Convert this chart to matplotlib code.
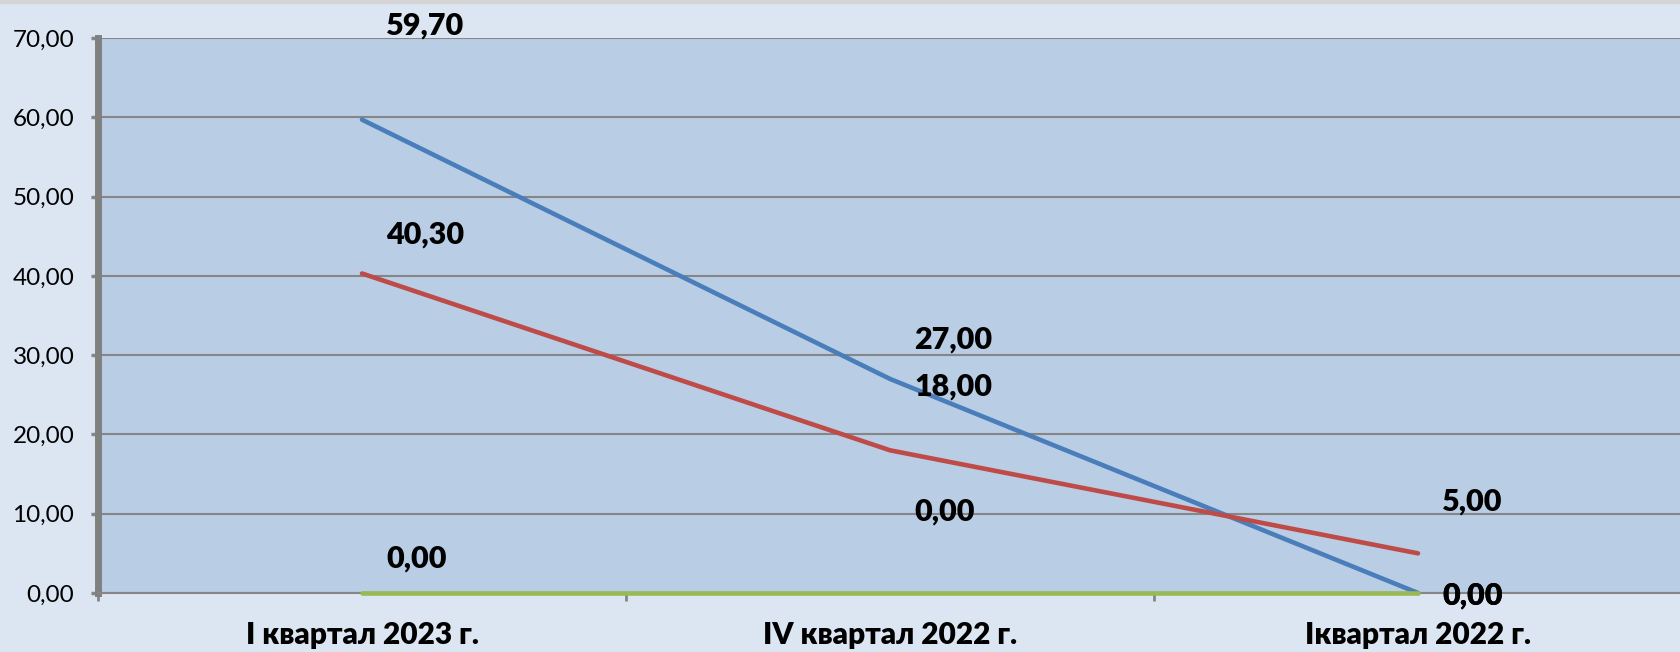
import matplotlib.pyplot as plt
from matplotlib.patches import Rectangle

categories = ["I квартал 2023 г.", "IV квартал 2022 г.", "Іквартал 2022 г."]
blue_vals = [59.7, 27.0, 0.0]
red_vals = [40.3, 18.0, 5.0]
green_vals = [0.0, 0.0, 0.0]
y_ticks = [0, 10, 20, 30, 40, 50, 60, 70]

plt.rcParams['font.family'] = ['Lato', 'Open Sans', 'DejaVu Sans']

fig = plt.figure(figsize=(16.8, 6.52), dpi=100)
fig.patch.set_facecolor("#dce6f2")
# thin grey band on top
fig.patches.append(Rectangle((0, 0.995), 1, 0.005, transform=fig.transFigure,
                             color="#d4d4d4", zorder=0))

ax = fig.add_axes([98 / 1680, 59 / 652, 1584 / 1680, 555 / 652])
ax.set_facecolor("#b9cde5")

x = list(range(len(categories)))
series = [
    (blue_vals, "#4a7ebb", [94, 39, -3]),
    (red_vals, "#be4b48", [39, 64, 52]),
    (green_vals, "#98b954", [34, 81, -3]),
]
for vals, col, dy in series:
    ax.plot(x, vals, color=col, lw=3.3, solid_capstyle="round", zorder=4,
            clip_on=False)
    for xi, v, d in zip(x, vals, dy):
        ax.annotate(f"{v:.2f}".replace(".", ","), (xi, v), xytext=(24, d),
                    textcoords="offset pixels", ha="left", va="center",
                    fontsize=22, fontweight="heavy", color="black", zorder=5,
                    annotation_clip=False)

ax.set_xlim(-0.5, 2.5)
ax.set_ylim(0, 70)
ax.set_yticks(y_ticks)
ax.set_yticklabels([f"{t:.2f}".replace(".", ",") for t in y_ticks], fontsize=17.5)
ax.yaxis.grid(True, color="#868686", lw=1.5, zorder=1)
ax.set_axisbelow(True)

ax.set_xticks(x)
ax.set_xticklabels(categories, fontsize=21.5, fontweight="heavy")
ax.set_xticks([-0.5, 0.5, 1.5, 2.5], minor=True)
ax.tick_params(axis="x", which="major", length=0, pad=20)
ax.tick_params(axis="x", which="minor", length=6, width=2, color="#868686")
ax.tick_params(axis="y", length=5, width=2.5, color="#868686", pad=12)

for s in ["top", "right"]:
    ax.spines[s].set_visible(False)
ax.spines["left"].set_color("#808080")
ax.spines["left"].set_linewidth(5)
ax.spines["bottom"].set_color("#868686")
ax.spines["bottom"].set_linewidth(1.5)

fig.savefig("out.png", dpi=100, facecolor=fig.get_facecolor())
